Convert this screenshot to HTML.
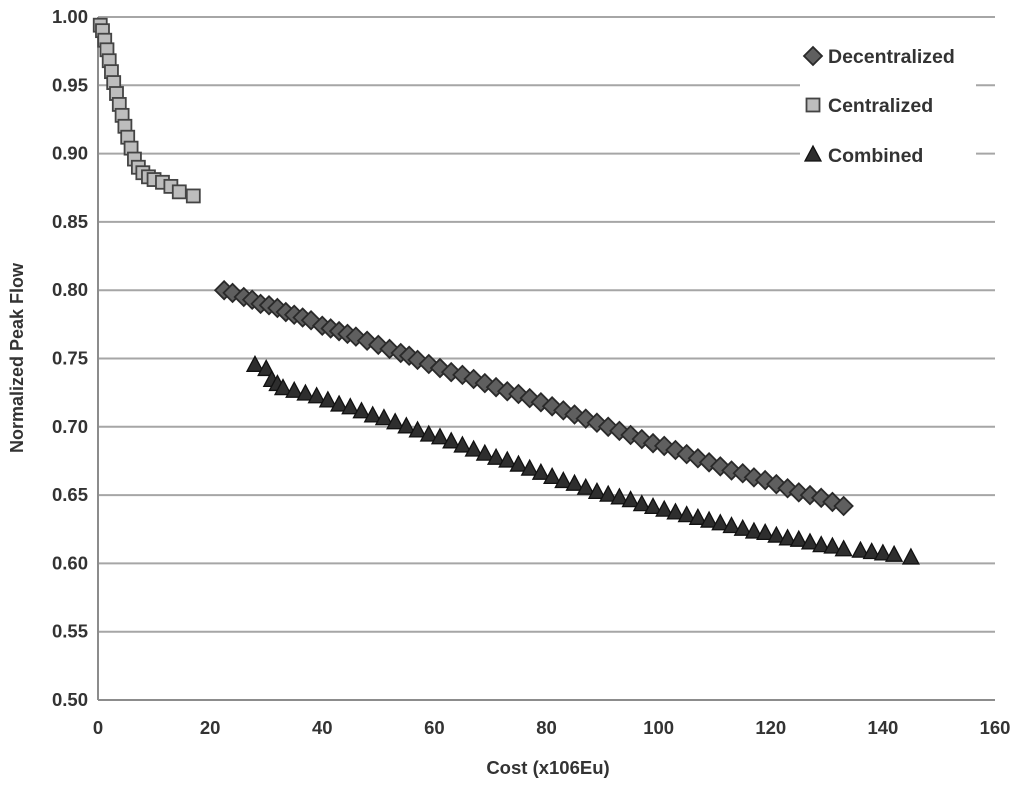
<!DOCTYPE html>
<html><head><meta charset="utf-8"><style>
body{margin:0;background:#fff;}
svg text{font-family:"Liberation Sans",sans-serif;font-weight:bold;fill:#333;}
</style></head><body>
<svg id="c" width="1024" height="785" xmlns="http://www.w3.org/2000/svg">
<g id="grid"></g>
<g id="axes"></g>
<g id="marks"></g>
<g id="legend"></g>
<text x="548" y="774" font-size="18.5" text-anchor="middle">Cost (x106Eu)</text>
<text transform="translate(23,358) rotate(-90)" font-size="18" text-anchor="middle">Normalized Peak Flow</text>
</svg>
<script>
const xTicks=[0,20,40,60,80,100,120,140,160];
const yTicks=[0.50,0.55,0.60,0.65,0.70,0.75,0.80,0.85,0.90,0.95,1.00];
const centX=[0.4,0.8,1.2,1.6,2.0,2.4,2.8,3.3,3.8,4.3,4.8,5.3,5.9,6.5,7.2,8.0,9.0,10.0,11.5,13.0,14.5,17.0];
const centY=[0.994,0.990,0.983,0.976,0.968,0.960,0.952,0.944,0.936,0.928,0.920,0.912,0.904,0.896,0.890,0.886,0.883,0.881,0.879,0.876,0.872,0.869];
const decX=[22.5,24,26,27.5,29,30.5,32,33.5,35,36.5,38,40,41.5,43,44.5,46,48,50,52,54,55.5,57,59,61,63,65,67,69,71,73,75,77,79,81,83,85,87,89,91,93,95,97,99,101,103,105,107,109,111,113,115,117,119,121,123,125,127,129,131,133];
const decY=[0.800,0.798,0.795,0.793,0.790,0.789,0.787,0.784,0.782,0.780,0.778,0.774,0.772,0.770,0.768,0.766,0.763,0.760,0.757,0.754,0.752,0.749,0.746,0.743,0.740,0.738,0.735,0.732,0.729,0.726,0.724,0.721,0.718,0.715,0.712,0.709,0.706,0.703,0.700,0.697,0.694,0.691,0.688,0.686,0.683,0.680,0.677,0.674,0.671,0.668,0.666,0.663,0.661,0.658,0.655,0.652,0.650,0.648,0.645,0.642];
const combX=[28,30,31,32,33,35,37,39,41,43,45,47,49,51,53,55,57,59,61,63,65,67,69,71,73,75,77,79,81,83,85,87,89,91,93,95,97,99,101,103,105,107,109,111,113,115,117,119,121,123,125,127,129,131,133,136,138,140,142,145];
const combY=[0.745,0.742,0.734,0.731,0.728,0.726,0.724,0.722,0.719,0.716,0.714,0.711,0.708,0.706,0.703,0.700,0.697,0.694,0.692,0.689,0.686,0.683,0.680,0.677,0.675,0.672,0.669,0.666,0.663,0.660,0.658,0.655,0.652,0.650,0.648,0.646,0.643,0.641,0.639,0.637,0.635,0.633,0.631,0.629,0.627,0.625,0.623,0.622,0.620,0.618,0.617,0.615,0.613,0.612,0.610,0.609,0.608,0.607,0.606,0.604];
const NS="http://www.w3.org/2000/svg";
const X0=98,X1=995,Y0=700,Y1=17;
function sx(v){return X0+(v-0)/160*(X1-X0);}
function sy(v){return Y0-(v-0.5)/0.5*(Y0-Y1);}
function mk(tag,attrs,parent){const e=document.createElementNS(NS,tag);for(const k in attrs)e.setAttribute(k,attrs[k]);parent.appendChild(e);return e;}
const grid=document.getElementById('grid'),axes=document.getElementById('axes'),marks=document.getElementById('marks'),legend=document.getElementById('legend');
yTicks.forEach(t=>{
  if(t>0.5){const l=mk('line',{x1:X0,x2:X1,y1:sy(t),y2:sy(t),stroke:'#a6a6a6','stroke-width':2},grid);
  
  }
  const tx=mk('text',{x:X0-10,y:sy(t)+6,'font-size':18.5,'text-anchor':'end'},axes);
  tx.textContent=t.toFixed(2);
  
  
});
const ya=mk('line',{x1:X0,x2:X0,y1:Y1,y2:Y0,stroke:'#8c8c8c','stroke-width':2},axes);


const xa=mk('line',{x1:X0,x2:X1,y1:Y0,y2:Y0,stroke:'#8c8c8c','stroke-width':2},axes);


xTicks.forEach(t=>{
  const tx=mk('text',{x:sx(t),y:734,'font-size':18.5,'text-anchor':'middle'},axes);
  tx.textContent=t;
  
  
});
function sq(x,y,p){const e=mk('rect',{x:x-6.5,y:y-6.5,width:13,height:13,fill:'#bdbdbd',stroke:'#444','stroke-width':1.8},p);return e;}
function dia(x,y,p){return mk('polygon',{points:`${x},${y-9} ${x+9},${y} ${x},${y+9} ${x-9},${y}`,fill:'#5f5f5f',stroke:'#2a2a2a','stroke-width':1.8},p);}
function tri(x,y,p){return mk('polygon',{points:`${x},${y-9} ${x+8},${y+6} ${x-8},${y+6}`,fill:'#2e2e2e',stroke:'#111','stroke-width':1.3},p);}
decX.forEach((v,i)=>{const e=dia(sx(v),sy(decY[i]),marks);

});
combX.forEach((v,i)=>{const e=tri(sx(v),sy(combY[i]),marks);

});
centX.forEach((v,i)=>{const e=sq(sx(v),sy(centY[i]),marks);

});
const bg=mk('rect',{x:800,y:38,width:176,height:136,fill:'#fff'},legend);


const items=[['Decentralized',dia,56],['Centralized',sq,105],['Combined',tri,155]];
items.forEach(([lab,f,y])=>{
  const m=f(813,y,legend);
  
  
  const t=mk('text',{x:828,y:y+7,'font-size':19.5},legend);
  t.textContent=lab;
  
  
});
</script>
</body></html>
